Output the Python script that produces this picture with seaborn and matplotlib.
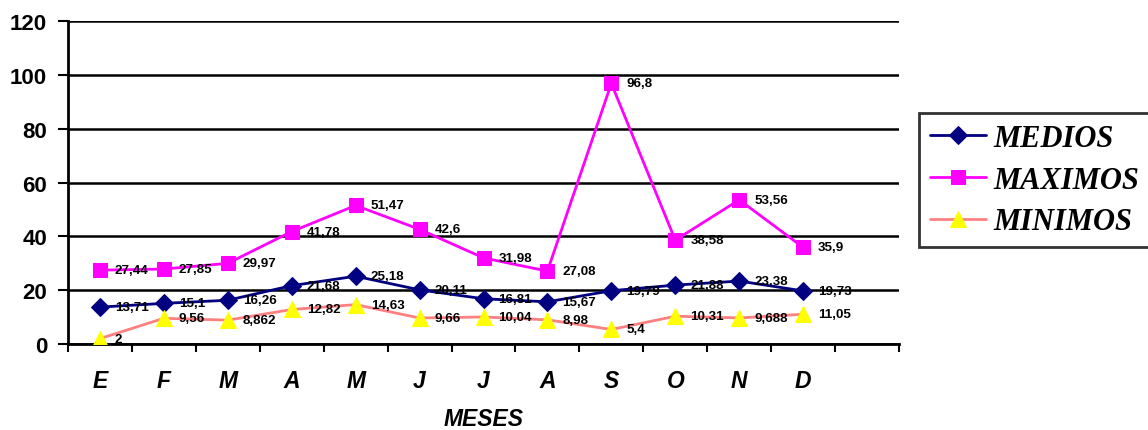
import matplotlib
matplotlib.use("Agg")
import matplotlib.pyplot as plt
import seaborn as sns
import pandas as pd
from matplotlib.ticker import FixedLocator

# Monthly data
meses = ["E", "F", "M", "A", "M", "J", "J", "A", "S", "O", "N", "D"]
medios = [13.71, 15.1, 16.26, 21.68, 25.18, 20.11, 16.81, 15.67, 19.79, 21.88, 23.38, 19.73]
maximos = [27.44, 27.85, 29.97, 41.78, 51.47, 42.6, 31.98, 27.08, 96.8, 38.58, 53.56, 35.9]
minimos = [2, 9.56, 8.862, 12.82, 14.63, 9.66, 10.04, 8.98, 5.4, 10.31, 9.688, 11.05]
y_ticks = [0, 20, 40, 60, 80, 100, 120]

sns.set_theme(style="white")
plt.rcParams["font.family"] = ["Liberation Sans", "DejaVu Sans"]
plt.rcParams["text.color"] = "black"
plt.rcParams["axes.labelcolor"] = "black"
plt.rcParams["xtick.color"] = "black"
plt.rcParams["ytick.color"] = "black"

fig = plt.figure(figsize=(11.48, 4.31), dpi=100)
ax = fig.add_axes([68 / 1148, 1 - 345 / 431, (899 - 68) / 1148, (345 - 22) / 431])

pos = list(range(len(meses)))
df = pd.DataFrame({"pos": pos, "MEDIOS": medios, "MAXIMOS": maximos, "MINIMOS": minimos})

series = [
    ("MEDIOS", "#000080", "D", "#000080", 9.5),
    ("MAXIMOS", "#FF00FF", "s", "#FF00FF", 10),
    ("MINIMOS", "#FF8080", "^", "#FFFF00", 11),
]

handles = []
for name, lc, mk, mfc, ms in series:
    sns.lineplot(data=df, x="pos", y=name, ax=ax, color=lc, marker=mk,
                 markerfacecolor=mfc, markeredgecolor=mfc, markersize=ms,
                 linewidth=2, label=name, zorder=3)
    handles.append(ax.lines[-1])
    for x, v in zip(pos, df[name]):
        ax.annotate(f"{v:g}".replace(".", ","), (x, v), xytext=(15, 0),
                    textcoords="offset pixels", ha="left", va="center",
                    fontsize=9.6, fontweight="bold", color="black", zorder=4)

ax.set_xlim(-0.5, len(meses) + 0.5)
ax.set_ylim(0, 120)
ax.set_yticks(y_ticks)
ax.set_yticklabels([str(t) for t in y_ticks], fontsize=16, fontweight="bold")
ax.tick_params(axis="y", length=7, width=1.5, color="black", direction="out", pad=8, left=True)

ax.set_xticks(pos)
ax.set_xticklabels(meses, fontsize=16.5, fontweight="bold", style="italic")
ax.xaxis.set_minor_locator(FixedLocator([p - 0.5 for p in range(len(meses) + 2)]))
ax.tick_params(axis="x", which="major", length=0, pad=18)
ax.tick_params(axis="x", which="minor", length=6, width=1.5, color="black", direction="out", bottom=True)
ax.set_xlabel("MESES", fontsize=16.5, fontweight="bold", style="italic", labelpad=11)
ax.set_ylabel("")

ax.yaxis.grid(True, color="black", linewidth=1.8)
ax.xaxis.grid(False)
ax.set_axisbelow(True)
for side in ["top", "right"]:
    ax.spines[side].set_visible(False)
for side in ["left", "bottom"]:
    ax.spines[side].set_color("black")
    ax.spines[side].set_linewidth(2)

ax.get_legend().remove()
leg = fig.legend(handles=handles, labels=[s[0] for s in series],
                 loc="upper left", bbox_to_anchor=(919 / 1148, 1 - 114 / 431),
                 bbox_transform=fig.transFigure, borderaxespad=0,
                 prop={"family": "Liberation Serif", "weight": "bold", "style": "italic", "size": 22},
                 frameon=True, fancybox=False, handlelength=1.85, handletextpad=0.25,
                 labelspacing=0.42, borderpad=0.35)
leg.get_frame().set_edgecolor("black")
leg.get_frame().set_linewidth(2)
for t in leg.get_texts():
    t.set_color("black")

fig.savefig("out.png", dpi=100)
